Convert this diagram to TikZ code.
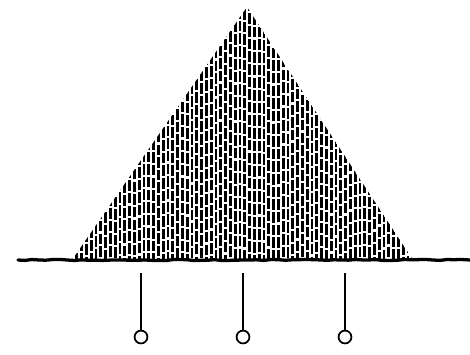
\documentclass[tikz,border=0pt]{standalone}
\usetikzlibrary{decorations.pathmorphing}
\begin{document}
\begin{tikzpicture}[x=0.03cm, y=-0.03cm,
    hatch/.style={line width=2.3pt, dash pattern=on 9pt off 1.8pt},
    ground/.style={line width=2.8pt, line cap=round, decorate, decoration={random steps, segment length=6pt, amplitude=0.5pt}},
    stem/.style={line width=1.5pt},
    pin/.style={circle, draw, line width=1.5pt, inner sep=0pt, minimum size=11pt, fill=white}]
    \useasboundingbox (0,0) rectangle (470,354);

    % The pyramid, hatched with short vertical strokes
    \begin{scope}
        \clip (72,260) -- (247,7) -- (413,260) -- cycle;
        \pgfmathsetseed{7}
        \foreach \x in {72,76.8,...,414} {
            \pgfmathsetmacro{\ph}{rnd*10}
            \draw[hatch, dash phase=\ph pt] (\x,262) -- (\x,4);
        }
    \end{scope}

    % The ground line
    \coordinate (gl) at (18,260);
    \coordinate (gr) at (470,260);
    \draw[ground] (gl) -- (gr);

    % The three pins
    \foreach \i/\x in {1/141, 2/243, 3/345} {
        \coordinate (t\i) at (\x,273);
        \node[pin] (p\i) at (\x,337) {};
        \draw[stem] (t\i) -- (p\i.north);
    }
\end{tikzpicture}
\end{document}
